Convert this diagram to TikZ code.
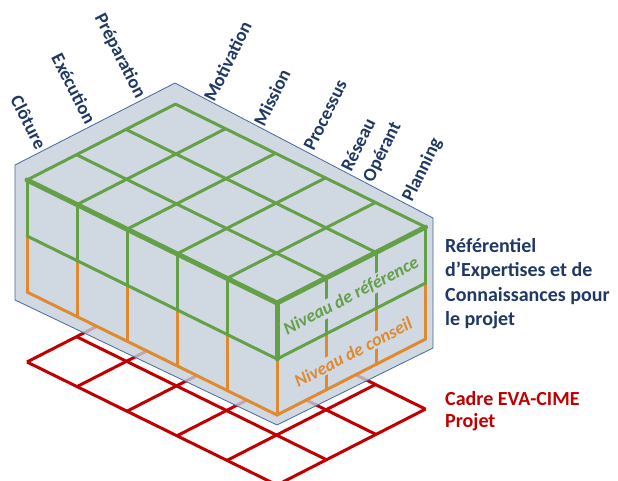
\documentclass[tikz,border=0pt]{standalone}
\usepackage{fontspec}
\setmainfont{Carlito}
\usetikzlibrary{calc}
\definecolor{gridgreen}{HTML}{64A048}
\definecolor{gridorange}{HTML}{DF8A2E}
\definecolor{cimered}{HTML}{C00000}
\definecolor{navy}{HTML}{1F3864}
\definecolor{panelfill}{HTML}{C4CEDB}
\definecolor{facefill}{HTML}{D0D8E2}
\definecolor{panelborder}{HTML}{46689C}
\begin{document}
\begin{tikzpicture}[x=1pt,y=-1pt,
  redline/.style={draw=cimered,line width=3pt},
  greenline/.style={draw=gridgreen,line width=3pt,line cap=round},
  greenthick/.style={draw=gridgreen,line width=5pt,line cap=round},
  orangeline/.style={draw=gridorange,line width=3pt,line cap=round},
  toplabel/.style={text=navy,inner sep=0pt,font=\fontsize{18.7}{22}\selectfont\bfseries},
  facelabel/.style={fill=facefill,inner sep=1.5pt,rotate=27.5,font=\fontsize{18}{22}\selectfont\bfseries\itshape},
  sidetext/.style={anchor=north west,align=left,inner sep=0pt}]
\useasboundingbox (0,0) rectangle (618,481);
\clip (0,0) rectangle (618,481);
% ground frame (red grid)
\begin{scope}[shift={(27,292)},x={(50pt,-24.6pt)},y={(49.5pt,25.3pt)},z={(0pt,56pt)}]
  \foreach \i in {0,...,5} \draw[redline] (\i,0,-1.25) -- (\i,3,-1.25);
  \foreach \j in {0,...,3} \draw[redline] (0,\j,-1.25) -- (5,\j,-1.25);
\end{scope}
% translucent panel
\path[fill=panelfill,fill opacity=0.8,draw=panelborder,line width=0.8pt]
  (15,165) -- (175,83) -- (433,218) -- (433,348) -- (277,425) -- (15,300) -- cycle;
% the box
\begin{scope}[shift={(27,292)},x={(50pt,-24.6pt)},y={(49.5pt,25.3pt)},z={(0pt,56pt)}]
  \fill[facefill] (0,0,2) -- (0,3,2) -- (5,3,2) -- (5,3,0) -- (5,0,0) -- (0,0,0) -- cycle;
  % lower level (orange)
  \foreach \i in {0,...,5} \draw[orangeline] (\i,0,0) -- (\i,0,1);
  \foreach \j in {1,...,3} \draw[orangeline] (5,\j,0) -- (5,\j,1);
  \draw[orangeline] (0,0,0) -- (5,0,0) -- (5,3,0);
  % upper level (green)
  \foreach \i in {0,...,4} \draw[greenline] (\i,0,1) -- (\i,0,2);
  \foreach \j in {1,...,3} \draw[greenline] (5,\j,1) -- (5,\j,2);
  \draw[greenline] (0,0,1) -- (5,0,1) -- (5,3,1);
  \foreach \i in {0,...,4} \draw[greenline] (\i,0,2) -- (\i,3,2);
  \foreach \j in {1,...,3} \draw[greenline] (0,\j,2) -- (5,\j,2);
  \draw[greenthick] (0,0,2) -- (5,0,2) -- (5,3,2);
  \draw[greenthick] (5,0,1) -- (5,0,2);
  % anchor points
  \coordinate (lt1) at (0,0.5,2);
  \coordinate (lt2) at (0,1.5,2);
  \coordinate (lt3) at (0,2.5,2);
  \foreach \i/\n in {0/1,1/2,2/3,3/4,4/5} \coordinate (rt\n) at (\i+0.5,3,2);
  \coordinate (refc) at (5,1.5,1.5);
  \coordinate (conc) at (5,1.5,0.5);
\end{scope}
% level labels on the right face
\node[facelabel,text=gridgreen] (reflevel) at ($(refc)+(0pt,-3pt)$) {Niveau de référence};
\node[facelabel,text=gridorange] (conlevel) at ($(conc)+(2pt,-3pt)$) {Niveau de conseil};
% labels along the top-left edge
\node[toplabel,rotate=-62.9,anchor=east] (cloture) at ($(lt1)+(117.1:22pt)$) {Clôture};
\node[toplabel,rotate=-62.9,anchor=east] (execution) at ($(lt2)+(117.1:22pt)$) {Exécution};
\node[toplabel,rotate=-62.9,anchor=east] (preparation) at ($(lt3)+(117.1:22pt)$) {Préparation};
% labels along the top-right edge
\node[toplabel,rotate=63.8,anchor=west] (motivation) at ($(rt1)+(63.8:18pt)$) {Motivation};
\node[toplabel,rotate=63.8,anchor=west] (mission) at ($(rt2)+(63.8:18pt)$) {Mission};
\node[toplabel,rotate=63.8,anchor=west] (processus) at ($(rt3)+(63.8:18pt)$) {Processus};
\node[toplabel,rotate=63.8,anchor=west,align=left,font=\fontsize{18.7}{24}\selectfont\bfseries] (reseau) at ($(rt4)+(63.8:16pt)$) {Réseau\\Opérant};
\node[toplabel,rotate=63.8,anchor=west] (planning) at ($(rt5)+(63.8:16pt)$) {Planning};
% side texts
\node[sidetext,text=navy,font=\fontsize{20}{24.5}\selectfont\bfseries] (referentiel) at (445,238)
  {Référentiel\\d’Expertises et de\\Connaissances pour\\le projet};
\node[sidetext,text=cimered,font=\fontsize{20}{22.7}\selectfont\bfseries] (cadre) at (445,391)
  {Cadre EVA-CIME\\Projet};
\end{tikzpicture}
\end{document}
